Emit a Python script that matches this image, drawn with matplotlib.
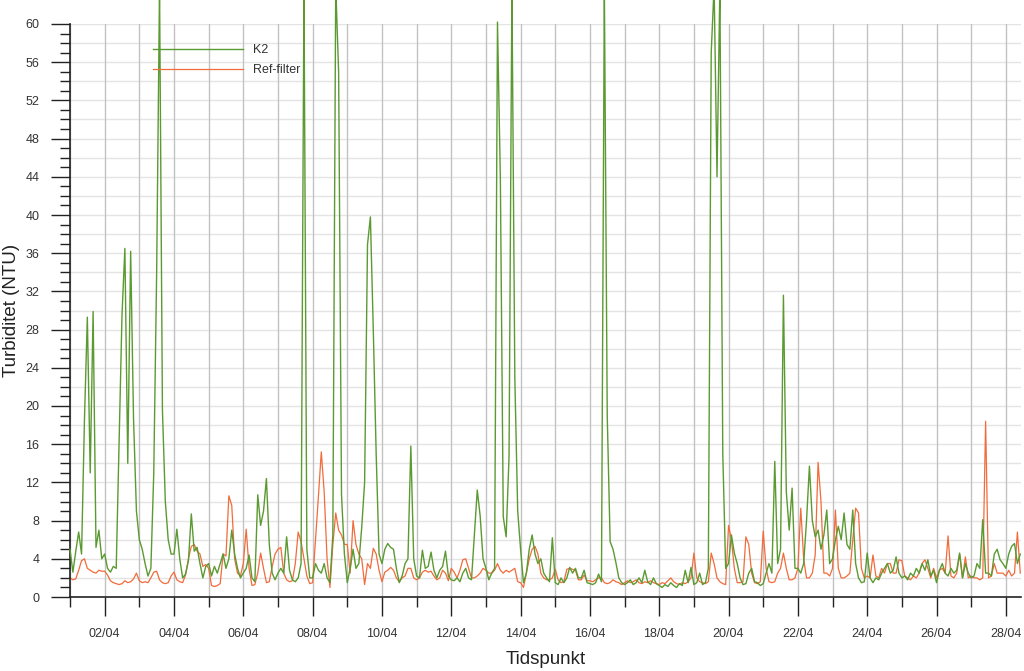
import numpy as np
import pandas as pd
import matplotlib.pyplot as plt
import matplotlib.dates as mdates
from matplotlib.ticker import MultipleLocator

# turbiditet (NTU), one value every 2 hours from 01/04 00:00
k2_ntu = [
    5.0, 2.6, 4.8, 6.8, 4.5, 18.5, 29.3, 13.0, 29.9, 5.2, 7.0, 4.0,      # 01/04
    4.5, 3.0, 2.6, 3.2, 3.0, 16.0, 29.5, 36.5, 14.0, 36.2, 18.6, 9.0,    # 02/04
    6.0, 5.0, 3.5, 2.2, 3.0, 13.0, 34.0, 64.0, 19.6, 10.0, 6.0, 4.5,     # 03/04
    4.5, 7.1, 4.0, 2.0, 2.4, 3.8, 8.7, 4.8, 5.2, 3.5, 2.0, 3.2,          # 04/04
    3.5, 2.2, 3.2, 2.5, 3.5, 4.5, 3.0, 4.0, 7.0, 4.5, 3.0, 2.0,          # 05/04
    2.5, 3.0, 4.4, 2.0, 1.6, 10.7, 7.5, 9.0, 12.4, 5.5, 2.5, 1.8,        # 06/04
    2.5, 3.0, 2.5, 6.3, 2.8, 1.8, 1.6, 2.0, 3.5, 64.0, 5.0, 2.0,         # 07/04
    2.0, 3.5, 2.8, 2.5, 3.5, 2.0, 1.5, 6.5, 64.0, 55.0, 10.7, 4.5,       # 08/04
    1.5, 3.0, 5.0, 3.0, 3.5, 7.3, 12.0, 36.9, 39.8, 28.0, 15.0, 4.5,     # 09/04
    3.5, 5.0, 5.6, 5.2, 5.0, 3.0, 1.5, 2.2, 3.5, 4.0, 15.8, 4.0,         # 10/04
    2.2, 2.0, 4.9, 3.0, 3.2, 4.7, 2.8, 2.0, 2.8, 3.2, 4.8, 2.2,          # 11/04
    1.8, 1.7, 2.0, 1.6, 2.5, 3.0, 2.0, 1.8, 6.5, 11.2, 8.5, 4.0,         # 12/04
    3.0, 1.8, 2.5, 3.0, 60.2, 43.7, 8.4, 6.3, 14.7, 64.0, 23.0, 9.0,     # 13/04
    5.0, 1.5, 2.5, 5.0, 6.5, 4.5, 3.5, 4.0, 2.5, 2.0, 1.6, 6.2,          # 14/04
    1.5, 1.3, 2.0, 1.5, 2.0, 3.1, 2.5, 3.0, 2.0, 2.0, 2.8, 1.5,          # 15/04
    1.4, 1.3, 1.5, 2.4, 1.6, 64.0, 19.0, 5.8, 5.0, 3.6, 2.0, 1.5,        # 16/04
    1.3, 1.5, 1.8, 1.3, 1.5, 2.0, 1.5, 2.8, 1.6, 1.3, 2.0, 1.4,          # 17/04
    1.2, 1.0, 1.3, 1.1, 1.5, 1.2, 1.0, 1.4, 1.2, 2.8, 1.5, 3.1,          # 18/04
    1.3, 1.5, 2.5, 1.3, 1.5, 3.0, 57.0, 64.0, 44.0, 64.0, 15.0, 3.0,     # 19/04
    3.5, 6.5, 4.6, 3.5, 2.0, 1.3, 1.4, 2.5, 3.0, 1.6, 1.5, 1.2,          # 20/04
    1.4, 2.5, 3.5, 2.5, 14.2, 3.5, 5.0, 31.6, 11.0, 7.0, 11.4, 3.0,      # 21/04
    3.0, 2.5, 3.5, 8.0, 13.7, 8.0, 6.3, 7.0, 5.0, 6.5, 9.1, 3.5,         # 22/04
    4.0, 6.0, 7.4, 6.0, 8.8, 5.5, 5.0, 9.1, 3.5, 2.0, 1.5, 1.6,          # 23/04
    4.6, 2.0, 1.5, 2.0, 1.8, 2.5, 3.0, 3.5, 2.5, 2.8, 4.2, 2.5,          # 24/04
    2.0, 2.2, 1.8, 2.5, 2.2, 3.0, 2.5, 3.5, 2.8, 3.9, 2.2, 2.8,          # 25/04
    1.5, 2.8, 3.5, 2.5, 2.2, 3.0, 2.5, 2.8, 4.6, 2.0, 3.5, 2.5,          # 26/04
    2.0, 2.2, 3.5, 3.0, 8.1, 2.5, 2.5, 2.2, 4.5, 5.0, 3.9, 3.5,          # 27/04
    3.0, 4.5, 5.3, 5.6, 3.5, 4.5,                                        # 28/04
]

ref_ntu = [
    2.0, 1.8, 1.9, 2.8, 3.8, 4.0, 3.0, 2.8, 2.6, 2.5, 2.8, 2.7,
    2.7, 2.3, 1.7, 1.5, 1.4, 1.3, 1.4, 1.7, 1.5, 1.6, 1.9, 2.5,
    1.7, 1.5, 1.6, 1.5, 2.0, 2.6, 2.7, 1.8, 1.5, 1.4, 1.5, 2.2,
    2.6, 1.8, 1.6, 1.5, 2.3, 4.0, 5.3, 5.5, 4.8, 4.5, 3.2, 3.4,
    3.0, 1.2, 1.1, 1.2, 1.4, 4.5, 4.3, 10.6, 9.6, 4.0, 2.5, 2.2,
    3.5, 7.1, 3.0, 1.2, 1.3, 2.5, 4.6, 3.0, 1.5, 1.6, 3.2, 4.5,
    5.0, 5.2, 2.5, 1.8, 1.6, 1.7, 3.5, 6.8, 5.8, 4.0, 2.2, 1.4,
    1.5, 6.0, 10.5, 15.2, 11.0, 4.0, 1.0, 5.5, 8.8, 7.0, 6.5, 5.5,
    5.5, 2.5, 8.0, 5.5, 4.5, 4.0, 1.3, 3.5, 3.0, 5.1, 4.5, 2.8,
    1.6, 2.6, 2.8, 3.1, 2.8, 2.0, 1.6, 2.0, 2.2, 3.0, 3.0, 2.0,
    1.8, 2.0, 2.6, 2.8, 2.6, 2.7, 2.2, 1.8, 2.0, 2.8, 2.5, 1.7,
    3.0, 2.6, 2.0, 2.8, 3.9, 4.0, 3.0, 2.0, 2.0, 2.2, 2.5, 3.0,
    2.8, 2.5, 2.5, 2.8, 3.5, 2.8, 2.5, 2.8, 2.6, 2.8, 3.0, 1.6,
    1.5, 1.0, 2.5, 4.0, 5.0, 5.3, 4.5, 2.5, 2.0, 1.8, 1.8, 2.0,
    2.9, 1.8, 1.5, 1.6, 2.9, 3.0, 2.9, 2.8, 1.8, 1.8, 2.3, 1.7,
    1.7, 1.6, 1.8, 2.0, 2.0, 1.5, 1.4, 1.5, 1.8, 1.6, 1.5, 1.3,
    1.5, 1.7, 1.5, 1.6, 1.8, 1.5, 1.4, 1.6, 1.5, 1.7, 1.5, 1.4,
    1.3, 1.5, 1.4, 1.7, 2.0, 1.6, 1.4, 1.3, 1.5, 1.4, 1.6, 2.0,
    4.6, 2.0, 1.6, 1.5, 1.4, 1.6, 4.6, 3.5, 2.0, 1.6, 1.4, 1.3,
    7.5, 6.0, 3.0, 1.5, 1.5, 1.6, 6.3, 5.5, 2.5, 1.5, 1.4, 1.6,
    6.9, 3.0, 1.6, 1.5, 1.6, 2.5, 3.0, 4.6, 3.0, 1.8, 1.8, 2.0,
    3.0, 9.3, 4.0, 2.0, 2.0, 2.5, 4.4, 14.1, 10.0, 2.5, 2.5, 2.2,
    3.0, 9.1, 3.0, 2.0, 2.0, 2.2, 2.5, 6.0, 9.3, 8.8, 3.0, 2.0,
    2.2, 2.0, 4.4, 2.2, 2.0, 3.0, 2.5, 3.5, 3.5, 2.5, 2.5, 3.9,
    3.8, 2.2, 2.0, 1.8, 2.2, 2.0, 2.5, 3.5, 3.9, 3.0, 2.0, 3.0,
    2.0, 2.8, 3.0, 2.5, 6.4, 2.2, 2.0, 2.5, 4.5, 2.0, 4.2, 2.0,
    2.2, 2.0, 2.0, 1.8, 2.0, 18.4, 2.0, 2.2, 3.5, 2.5, 2.5, 2.5,
    2.2, 2.8, 2.2, 2.5, 6.8, 2.5,
]

series_names = ["K2", "Ref-filter"]
series_colors = ["#5b9a31", "#f26b3b"]

plt.rcParams['font.family'] = ['Liberation Sans', 'DejaVu Sans']

times = pd.date_range("2015-04-01", periods=len(k2_ntu), freq="2h")

fig = plt.figure(figsize=(10.24, 6.71), dpi=100)
ax = fig.add_axes([70 / 1024, 74 / 671, 951 / 1024, 573 / 671])

# light horizontal grid every 2 NTU, darker vertical grid every day
for y in range(2, 61, 2):
    ax.axhline(y, color="#e4e4e4", lw=1, zorder=0)
ax.grid(axis="x", which="both", color="#c2c2c2", lw=1)
ax.set_axisbelow(True)

ax.plot(times, k2_ntu, color=series_colors[0], lw=1.0, label=series_names[0],
        clip_on=False, zorder=3)
ax.plot(times, ref_ntu, color=series_colors[1], lw=0.9, label=series_names[1],
        clip_on=False, zorder=2)

ax.set_xlim(pd.Timestamp("2015-04-01"), pd.Timestamp("2015-04-28 10:30"))
ax.set_ylim(0, 60)

ax.yaxis.set_major_locator(MultipleLocator(4))
ax.yaxis.set_minor_locator(MultipleLocator(1))
ax.xaxis.set_major_locator(mdates.DayLocator(bymonthday=range(2, 29, 2)))
ax.xaxis.set_minor_locator(mdates.DayLocator(bymonthday=range(1, 30, 2)))
ax.xaxis.set_major_formatter(mdates.DateFormatter("%d/%m"))

ax.tick_params(which="major", length=14, width=1, color="#222222",
               labelsize=9, labelcolor="#333333", pad=8)
ax.tick_params(which="minor", length=7, width=1, color="#222222")

for side in ["top", "right"]:
    ax.spines[side].set_visible(False)
for side in ["left", "bottom"]:
    ax.spines[side].set_color("#222222")
    ax.spines[side].set_linewidth(1.2)

ax.set_ylabel("Turbiditet (NTU)", fontsize=13.5, color="#222222", labelpad=4)
ax.set_xlabel("Tidspunkt", fontsize=13.5, color="#222222", labelpad=8)

ax.legend(loc="upper left", bbox_to_anchor=(153 / 1024, 1 - 44 / 671),
          bbox_transform=fig.transFigure, frameon=False, fontsize=9,
          handlelength=7.2, handletextpad=0.8, labelspacing=0.65,
          borderpad=0, borderaxespad=0, labelcolor="#333333")

fig.savefig("out.png", dpi=100)
